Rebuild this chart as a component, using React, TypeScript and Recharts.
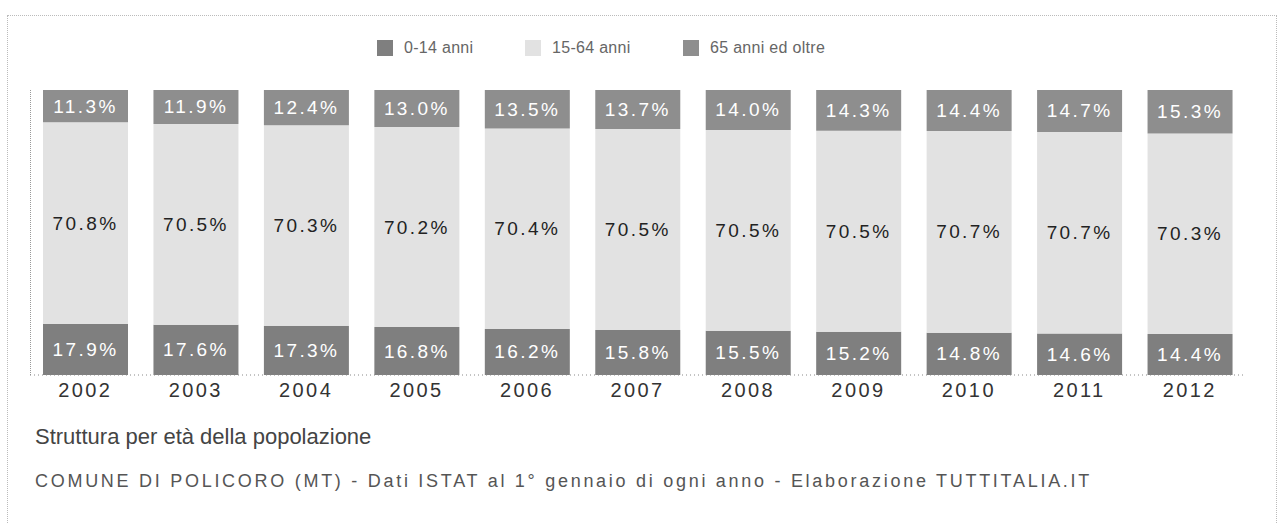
import React from "react";
import { BarChart, Bar, XAxis, YAxis, LabelList } from "recharts";

// ─── Data ───
const years = ["2002", "2003", "2004", "2005", "2006", "2007", "2008", "2009", "2010", "2011", "2012"];
const young = [17.9, 17.6, 17.3, 16.8, 16.2, 15.8, 15.5, 15.2, 14.8, 14.6, 14.4];
const adults = [70.8, 70.5, 70.3, 70.2, 70.4, 70.5, 70.5, 70.5, 70.7, 70.7, 70.3];
const elderly = [11.3, 11.9, 12.4, 13.0, 13.5, 13.7, 14.0, 14.3, 14.4, 14.7, 15.3];

const seriesNames = ["0-14 anni", "15-64 anni", "65 anni ed oltre"];
const seriesColors = ["#7f7f7f", "#e2e2e2", "#8e8e8e"];
const legendLeft = [377, 525, 683];

const data = years.map((year, i) => ({
  year,
  young: young[i],
  adults: adults[i],
  elderly: elderly[i],
}));

const FONT = "'Liberation Sans', Arial, sans-serif";

// ─── Label inside each segment ───
function segLabel(fill: string) {
  return (props: any) => {
    const { x, y, width, height, value } = props;
    return (
      <text
        x={Number(x) + Number(width) / 2}
        y={Number(y) + Number(height) / 2}
        textAnchor="middle"
        dominantBaseline="central"
        fill={fill}
        fontSize={19}
        letterSpacing={2.4}
        fontFamily={FONT}
      >
        {Number(value).toFixed(1)}%
      </text>
    );
  };
}

function YearTick(props: any) {
  const { x, y, payload } = props;
  return (
    <text
      x={x}
      y={y}
      dy="0.71em"
      textAnchor="middle"
      fill="#333"
      fontSize={20}
      letterSpacing={2.4}
      fontFamily={FONT}
    >
      {payload.value}
    </text>
  );
}

export default function App() {
  return (
    <div style={{ position: "absolute", left: 0, top: 0, width: 1283, height: 524, background: "#fff", overflow: "hidden" }}>
      {/* dotted frame */}
      <div
        style={{
          position: "absolute",
          left: 7,
          top: 15,
          width: 1268,
          height: 530,
          border: "1px dotted #bbb",
        }}
      />
      {/* legend */}
      {seriesNames.map((name, i) => (
        <div
          key={name}
          style={{
            position: "absolute",
            left: legendLeft[i],
            top: 38,
            height: 20,
            display: "flex",
            alignItems: "center",
            fontFamily: FONT,
            fontSize: 16,
            letterSpacing: 0.3,
            color: "#666",
            whiteSpace: "nowrap",
          }}
        >
          <div style={{ width: 16, height: 16, background: seriesColors[i], marginRight: 11 }} />
          <span>{name}</span>
        </div>
      ))}
      {/* left dotted axis */}
      <div
        style={{
          position: "absolute",
          left: 30,
          top: 90,
          height: 285,
          borderLeft: "1px dotted #999",
        }}
      />
      <div style={{ position: "absolute", left: 0, top: 0 }}>
        <BarChart
          width={1283}
          height={420}
          data={data}
          stackOffset="expand"
          margin={{ top: 90, right: 38, left: 30, bottom: 15 }}
        >
          <XAxis
            dataKey="year"
            height={30}
            tickLine={false}
            axisLine={{ stroke: "#888", strokeDasharray: "1 3" }}
            tick={<YearTick />}
            interval={0}
          />
          <YAxis type="number" domain={[0, 1]} hide />
          <Bar dataKey="young" name={seriesNames[0]} stackId="a" fill={seriesColors[0]} barSize={85} isAnimationActive={false}>
            <LabelList dataKey="young" content={segLabel("#fff")} />
          </Bar>
          <Bar dataKey="adults" name={seriesNames[1]} stackId="a" fill={seriesColors[1]} barSize={85} isAnimationActive={false}>
            <LabelList dataKey="adults" content={segLabel("#222")} />
          </Bar>
          <Bar dataKey="elderly" name={seriesNames[2]} stackId="a" fill={seriesColors[2]} barSize={85} isAnimationActive={false}>
            <LabelList dataKey="elderly" content={segLabel("#fff")} />
          </Bar>
        </BarChart>
      </div>
      <div
        style={{
          position: "absolute",
          left: 35,
          top: 424,
          fontFamily: FONT,
          fontSize: 22,
          lineHeight: "26px",
          color: "#444",
          whiteSpace: "nowrap",
        }}
      >
        Struttura per età della popolazione
      </div>
      <div
        style={{
          position: "absolute",
          left: 35,
          top: 470,
          fontFamily: FONT,
          fontSize: 18,
          lineHeight: "22px",
          letterSpacing: 2.72,
          color: "#555",
          whiteSpace: "nowrap",
        }}
      >
        COMUNE DI POLICORO (MT) - Dati ISTAT al 1° gennaio di ogni anno - Elaborazione TUTTITALIA.IT
      </div>
    </div>
  );
}
